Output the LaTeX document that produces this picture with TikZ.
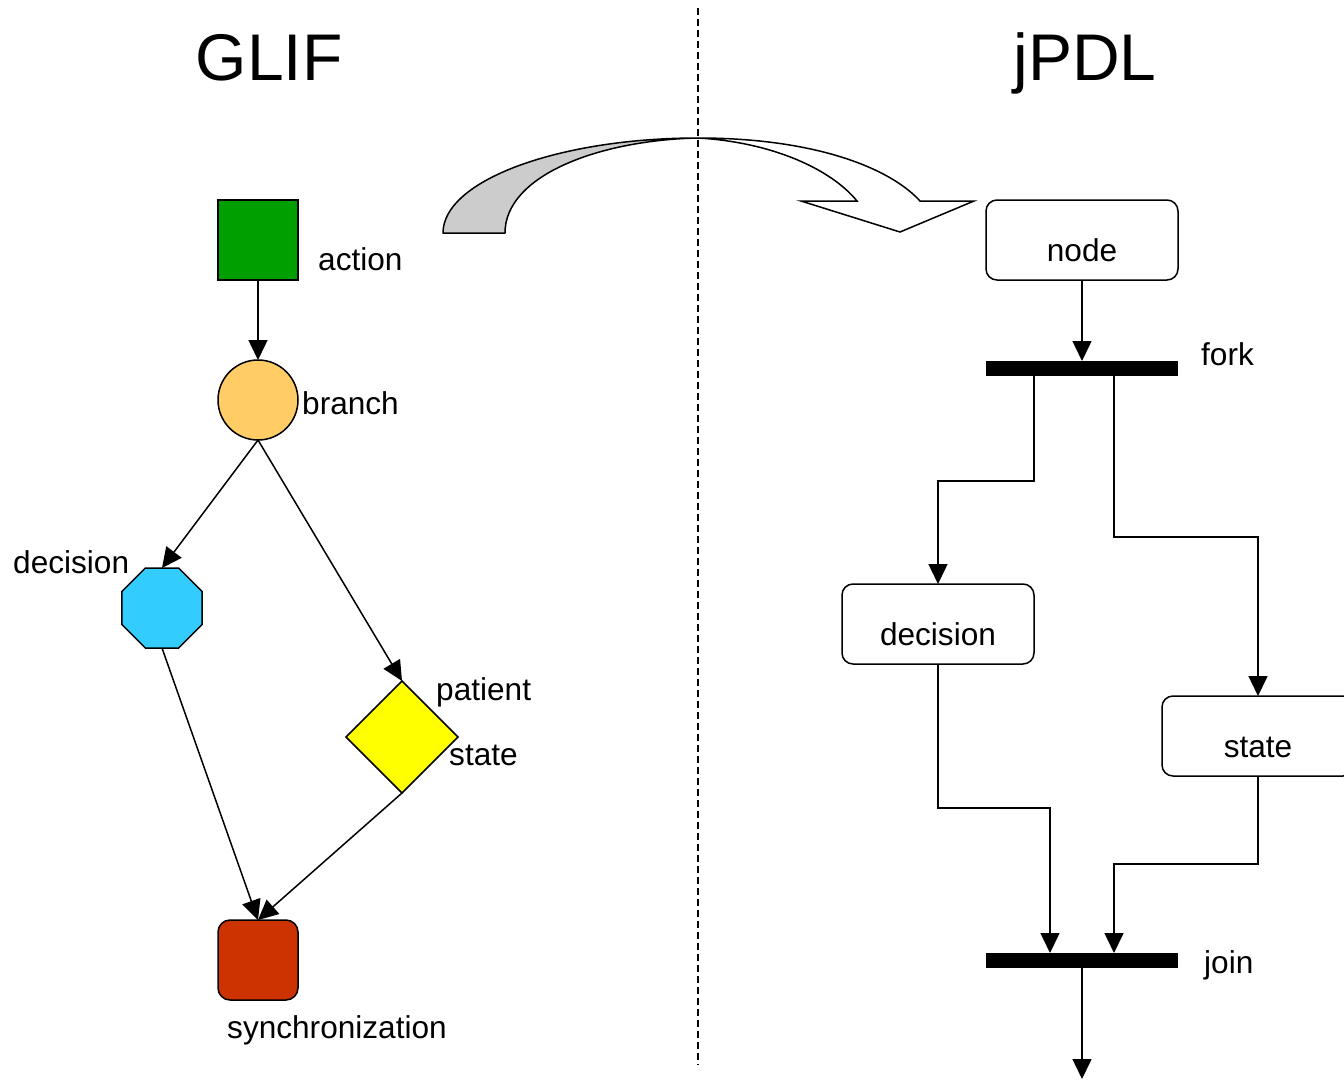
\documentclass[tikz,border=0pt]{standalone}
\usepackage{fontspec}
\setmainfont{Liberation Sans}
\usetikzlibrary{shapes.geometric,arrows.meta}
\definecolor{actgreen}{HTML}{009F00}
\definecolor{brorange}{HTML}{FFCC66}
\definecolor{decblue}{HTML}{33CCFF}
\definecolor{pstyellow}{HTML}{FFFF00}
\definecolor{syncred}{HTML}{CC3300}
\definecolor{bendgray}{HTML}{CCCCCC}
\begin{document}
\begin{tikzpicture}[x=1pt,y=-1pt,
  lbl/.style={font=\fontsize{31.6}{38}\selectfont, inner sep=0pt},
  ttl/.style={font=\fontsize{66}{78}\selectfont, inner sep=0pt},
  shp/.style={draw, line width=1.5pt, inner sep=0pt, outer sep=0pt},
  flow/.style={line width=1.5pt, -{Triangle[length=20pt,width=19pt]}},
  jbox/.style={draw, line width=1.5pt, rounded corners=11pt, minimum width=192pt,
               minimum height=80pt, inner sep=0pt, outer sep=0pt},
  bar/.style={fill=black, minimum width=192pt, minimum height=15pt, inner sep=0pt, outer sep=0pt},
]
\useasboundingbox (0,0) rectangle (1344,1079);

% titles
\node[ttl, anchor=base] (tglif) at (269,80) {GLIF};
\node[ttl, anchor=base] (tjpdl) at (1085,80) {jPDL};

% GLIF side
\node[shp, fill=actgreen, minimum size=80pt] (act) at (258,240) {};
\node[shp, circle, fill=brorange, minimum size=80pt] (br) at (258,400) {};
\node[shp, regular polygon, regular polygon sides=8, minimum size=86.6pt, fill=decblue] (dec) at (162,608) {};
\node[shp, diamond, minimum width=112pt, minimum height=112pt, fill=pstyellow] (pst) at (402,737) {};
\node[shp, rounded corners=12pt, minimum size=80pt, fill=syncred] (syn) at (258,960) {};

\node[lbl, anchor=base west] (lact) at (318,270) {action};
\node[lbl, anchor=base west] (lbr) at (302,414) {branch};
\node[lbl, anchor=base west] (ldec) at (13,573) {decision};
\node[lbl, anchor=base west] (lpat) at (436,700) {patient};
\node[lbl, anchor=base west] (lst) at (449,765) {state};
\node[lbl, anchor=base west] (lsyn) at (227,1038) {synchronization};

\draw[flow] (act) -- (br);
\draw[flow] (br.south) -- (dec.north);
\draw[flow] (br.south) -- (pst.north);
\draw[flow] (dec.south) -- (syn.north);
\draw[flow] (pst.south) -- (syn.north);

% jPDL side
\node[jbox] (nd) at (1082,240) {};
\node[bar] (fork) at (1082,368.5) {};
\node[jbox] (jdec) at (938,624) {};
\node[jbox] (jst) at (1258,736) {};
\node[bar] (join) at (1082,960.5) {};
\coordinate (out) at (1082,1079);

\node[lbl, anchor=base] (lnd) at (1082,261) {node};
\node[lbl, anchor=base west] (lfork) at (1201,365) {fork};
\node[lbl, anchor=base] (ljdec) at (938,645) {decision};
\node[lbl, anchor=base] (ljst) at (1258,757) {state};
\node[lbl, anchor=base west] (ljoin) at (1204,973) {join};

\draw[flow] (nd) -- (fork);
\draw[flow] ([xshift=-48pt]fork.south) -- ++(0,105) -| (jdec.north);
\draw[flow] ([xshift=32pt]fork.south) -- ++(0,161) -| (jst.north);
\draw[flow] (jdec.south) -- ++(0,144) -| ([xshift=-32pt]join.north);
\draw[flow] (jst.south) -- ++(0,88) -| ([xshift=32pt]join.north);
\draw[flow] (join) -- (out);

% bent block arrow from GLIF to jPDL
\draw[line width=1.5pt, fill=bendgray, line join=round]
  (443,233) .. controls (443,180) and (560,138) .. (698,138)
  .. controls (600,140) and (505,175) .. (505,233) -- cycle;
\draw[line width=1.5pt, fill=white, line join=miter]
  (698,138) .. controls (815,138) and (890,168) .. (920,201)
  -- (974,201) -- (900,232) -- (801,201) -- (857,201)
  .. controls (830,168) and (770,142) .. (698,138) -- cycle;

% separator
\draw[line width=1.3pt, dash pattern=on 7pt off 4pt] (698,8) -- (698,1065);
\end{tikzpicture}
\end{document}
